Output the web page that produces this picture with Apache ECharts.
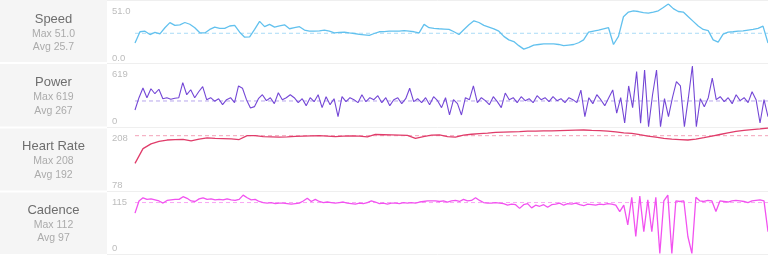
<!DOCTYPE html>
<html>
<head>
<meta charset="utf-8">
<script src="https://cdn.jsdelivr.net/npm/echarts@6/dist/echarts.min.js"></script>
<style>
html,body{margin:0;padding:0;background:#fff;}
#c{width:768px;height:259px;}
</style>
</head>
<body>
<div id="c"></div>
<script>
// ---- data ----
const panelNames = ['Speed', 'Power', 'Heart Rate', 'Cadence'];
const maxLabels = ['51.0', '619', '208', '112'];
const avgLabels = ['25.7', '267', '192', '97'];
const avgValues = [25.7, 267, 192, 97];
const axisMin = [0, 0, 78, 0];
const axisMax = [51, 619, 208, 115];
const tickLabels = [['0.0', '51.0'], ['0', '619'], ['78', '208'], ['0', '115']];

const speed = [17.3, 27, 27.5, 24.6, 26.5, 25.2, 30.5, 34.9, 32.5, 33, 35, 33.5, 30.5, 26.1, 26, 29, 31, 30, 30, 32,
  32.5, 26.6, 22.3, 22.5, 29, 36, 31.4, 33.4, 31, 32, 33, 29.6, 30.5, 31.4, 28.5, 27.5, 27.5, 27.8, 28.4, 27.5,
  26.1, 26.4, 26.6, 26, 25.5, 24.8, 24.4, 23.8, 25.5, 27, 27.2, 27.5, 27.5, 27.5, 28, 27.5, 27, 26.1, 33.4, 30.5,
  30, 29.6, 29.3, 29, 27, 24.6, 29, 33, 36.5, 35, 32.5, 31, 29.5, 27.5, 23, 20, 18.5, 15, 12, 13.5,
  15.5, 16, 16.5, 16.5, 16.5, 16, 15, 15.5, 16, 17.5, 20, 26.6, 27.5, 28.4, 29.5, 30.5, 16, 23, 40, 44,
  45, 44.5, 43.5, 43.1, 44, 45.1, 48, 51, 47, 44.5, 44, 40, 36, 32, 29, 28, 20, 18, 25, 26.6,
  27, 27.5, 27.8, 28.5, 29, 30, 31.9, 17.3];

const power = [176, 300, 397, 300, 390, 340, 385, 290, 300, 285,
  295, 300, 451, 330, 380, 300, 360, 411, 280, 300,
  265, 290, 230, 280, 300, 250, 418, 395, 280, 196,
  210, 290, 330, 270, 300, 240, 350, 280, 300, 330,
  300, 250, 290, 220, 300, 260, 330, 200, 310, 230,
  290, 109, 310, 260, 300, 280, 250, 330, 260, 300,
  280, 320, 250, 300, 220, 280, 300, 240, 290, 395,
  260, 290, 250, 300, 230, 310, 270, 200, 300, 126,
  280, 240, 126, 300, 280, 418, 250, 300, 270, 230,
  310, 260, 200, 347, 280, 300, 250, 310, 270, 290,
  250, 320, 280, 300, 260, 310, 270, 290, 250, 300,
  280, 250, 377, 109, 300, 240, 330, 280, 220, 300,
  378, 145, 300, 45, 418, 200, 562, 42, 579, 8,
  330, 579, 8, 290, 109, 300, 461, 418, 8, 300,
  619, 8, 290, 209, 300, 498, 280, 310, 260, 300,
  240, 330, 270, 300, 250, 360, 280, 45, 280, 109];

const heartRate = [134.5, 165, 175, 180, 183, 184, 184.5, 181, 185, 187.5,
  186.5, 186, 185.5, 184, 192, 192, 190, 189.5, 189, 189.5,
  190.5, 191, 191.5, 192, 191, 190, 191, 191.5, 191, 189.5,
  194.5, 194, 193.5, 193, 192.5, 186.5, 190, 193, 193.5, 190,
  189, 193, 195, 196.5, 197.5, 199, 199.5, 200, 200.5, 201.5,
  201.5, 202, 202, 202.5, 203, 203.5, 203.8, 203, 202.5, 201.5,
  200, 198, 196.8, 194, 191.3, 189, 186.5, 185, 184, 183,
  185, 187.8, 191, 194.5, 198, 201, 203, 204.5, 206, 208];

const cadence = [77, 100, 106, 103, 104, 102, 100, 96, 101, 102,
  103, 103, 108, 105, 100, 99, 104, 106, 103, 104,
  102, 103, 102, 104, 102, 101, 103, 111, 106, 102,
  103, 99, 97, 96, 97, 95, 96, 96, 95, 94,
  95, 96, 100, 105, 99, 103, 99, 97, 98, 97,
  96, 97, 98, 96, 95, 94, 96, 95, 97, 100,
  98, 95, 96, 94, 96, 96, 95, 97, 96, 97,
  96, 98, 99, 100, 100, 100, 99, 100, 98, 100,
  101, 99, 103, 100, 101, 106, 101, 97, 96, 96,
  97, 96, 95, 92, 94, 93, 86, 93, 95, 87,
  92, 90, 93, 88, 93, 94, 96, 92, 95, 94,
  96, 93, 91, 94, 93, 92, 94, 93, 95, 94,
  92, 80, 92, 55, 107, 33, 109, 42, 102, 42,
  107, 1, 100, 111, 1, 100, 99, 100, 33, 1,
  107, 100, 99, 101, 100, 80, 100, 99, 98, 100,
  101, 100, 99, 97, 100, 101, 102, 100, 42];

const seriesData = [speed, power, heartRate, cadence];

// ---- styling / layout ----
const lineColors = ['#62c1ee', '#7447d6', '#e03c6a', '#f252f0'];
const avgColors = ['#a9dbf6', '#b8a6ec', '#f3a2b8', '#f8a6f3'];
const gridTop = [4, 66, 128, 193];
const gridHeight = [59, 61.5, 62.5, 61];
const labelPad = [[2, 0, 0, 0], [3, 0, 1.5, 0], [5, 0, 0, 0], [4, 0, 1, 0]];
const panelTop = [0, 63.5, 127.5, 191];
const rectTop = [0, 64, 128.5, 192.5];
const rectH = [62, 62.5, 62, 61.5];
const FONT = '"Liberation Sans", Arial, sans-serif';

const grids = [], xAxes = [], yAxes = [], series = [], graphics = [];
for (let i = 0; i < 4; i++) {
  const n = seriesData[i].length;
  const data = seriesData[i].map((v, k) => [k, v]);
  grids.push({left: 135, right: 0, top: gridTop[i], height: gridHeight[i]});
  xAxes.push({type: 'value', gridIndex: i, min: 0, max: n - 1, show: false});
  const mn = axisMin[i], mx = axisMax[i], tl = tickLabels[i];
  yAxes.push({
    type: 'value', gridIndex: i, min: mn, max: mx,
    axisLine: {show: false}, axisTick: {show: false}, splitLine: {show: false},
    axisLabel: {
      show: true, margin: 23, align: 'left', color: '#bdbdbd', fontSize: 9.5, fontFamily: FONT,
      showMinLabel: true, showMaxLabel: true,
      verticalAlignMaxLabel: 'top', verticalAlignMinLabel: 'bottom',
      padding: labelPad[i],
      formatter: function (v) { return v === mn ? tl[0] : (v === mx ? tl[1] : ''); }
    }
  });
  // average reference line
  series.push({
    type: 'line', xAxisIndex: i, yAxisIndex: i,
    data: [[0, avgValues[i]], [n - 1, avgValues[i]]],
    showSymbol: false, symbol: 'none', silent: true, animation: false, z: 2,
    lineStyle: {color: avgColors[i], type: [4, 3], width: 1},
    itemStyle: {color: avgColors[i]}
  });
  series.push({
    type: 'line', xAxisIndex: i, yAxisIndex: i, data: data, showSymbol: false, symbol: 'none',
    lineStyle: {color: lineColors[i], width: i === 1 ? 1.1 : 1.3}, itemStyle: {color: lineColors[i]},
    animation: false, silent: true, z: 3
  });
  graphics.push({type: 'rect', left: 0, top: rectTop[i], shape: {width: 107, height: rectH[i]}, style: {fill: '#f5f5f5'}, silent: true, z: -1});
  graphics.push({type: 'text', x: 53.5, y: panelTop[i] + 19, style: {text: panelNames[i], fill: '#6e6e6e', font: '13px ' + FONT, textAlign: 'center', textVerticalAlign: 'middle'}});
  graphics.push({type: 'text', x: 53.5, y: panelTop[i] + 34, style: {text: 'Max ' + maxLabels[i], fill: '#ababab', font: '10.5px ' + FONT, textAlign: 'center', textVerticalAlign: 'middle'}});
  graphics.push({type: 'text', x: 53.5, y: panelTop[i] + 47.5, style: {text: 'Avg ' + avgLabels[i], fill: '#ababab', font: '10.5px ' + FONT, textAlign: 'center', textVerticalAlign: 'middle'}});
}
const sepY = [0.5, 63.5, 127.5, 191.5, 254.5];
sepY.forEach(function (y) {
  graphics.push({type: 'line', shape: {x1: 107, y1: y, x2: 768, y2: y}, style: {stroke: '#efefef', lineWidth: 1}, silent: true, z: -1});
});

const chart = echarts.init(document.getElementById('c'), null, {renderer: 'canvas'});
chart.setOption({
  animation: false,
  backgroundColor: '#ffffff',
  grid: grids, xAxis: xAxes, yAxis: yAxes, series: series,
  graphic: {elements: graphics}
});
</script>
</body>
</html>
